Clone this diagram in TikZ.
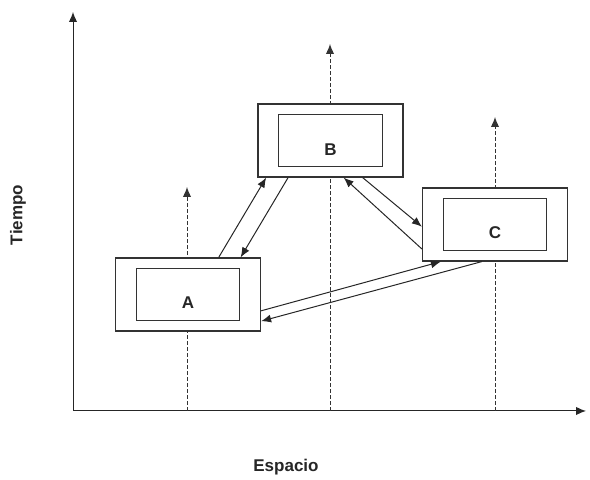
\documentclass[tikz,border=0pt]{standalone}
\usepackage{fontspec}
\setmainfont{Liberation Sans}
\usetikzlibrary{arrows.meta, calc}

\begin{document}
\begin{tikzpicture}[
    x=0.5pt, y=0.5pt,
    outer/.style={
      draw=black!80, fill=white, line width=0.6pt,
      minimum width=72.5pt, minimum height=36.5pt, inner sep=0pt
    },
    inner/.style={
      draw=black!80, line width=0.55pt,
      minimum width=51.75pt, minimum height=26pt, inner sep=0pt
    },
    lbl/.style={font=\bfseries\fontsize{8.5}{10}\selectfont, text=black!85},
    axis/.style={-{Latex[length=5pt, width=4.2pt]}, line width=0.5pt, draw=black!85},
    dline/.style={-{Latex[length=5pt, width=4.2pt]}, line width=0.5pt, draw=black!80,
      dash pattern=on 2pt off 1pt},
    arr/.style={-{Latex[length=5pt, width=4pt]}, line width=0.5pt, draw=black!85},
  ]
    \useasboundingbox (0,0) rectangle (590,480);

    % --- Axes ---
    \coordinate (o)    at (73,69);
    \coordinate (ytip) at (73,468);
    \coordinate (xtip) at (586,69);
    \draw[axis] (o) -- (ytip);
    \draw[axis] (o) -- (xtip);
    \node[lbl, rotate=90] (tiempo)  at (18,265) {Tiempo};
    \node[lbl]            (espacio) at (286,13) {Espacio};

    % --- World lines ---
    \coordinate (ta) at (187,293);
    \coordinate (tb) at (330,436);
    \coordinate (tc) at (495,363);
    \draw[dline] (ta |- o) -- (ta);
    \draw[dline] (tb |- o) -- (tb);
    \draw[dline] (tc |- o) -- (tc);

    % --- Boxes ---
    \node[outer] (a) at (188,185.5) {};
    \node[inner] (ai) at (a.center) {};
    \node[lbl]   (la) at ([yshift=-4pt]a.center) {A};

    \node[outer] (b) at (330.5,339.5) {};
    \node[inner] (bi) at (b.center) {};
    \node[lbl]   (lb) at ([yshift=-4.5pt]b.center) {B};

    \node[outer] (c) at (495,255.5) {};
    \node[inner] (ci) at (c.center) {};
    \node[lbl]   (lc) at ([yshift=-4.25pt]c.center) {C};

    % --- Arrows ---
    \draw[arr] ($(a.north west)!.71!(a.north east)$) -- ($(b.south west)!.06!(b.south east)$);
    \draw[arr] ($(b.south west)!.21!(b.south east)$) -- ($(a.north west)!.86!(a.north east)$);
    \draw[arr] ($(c.north west)!.83!(c.south west)$) -- ($(b.south west)!.59!(b.south east)$);
    \draw[arr] ($(b.south west)!.72!(b.south east)$) -- ($(c.north west)!.53!(c.south west)$);
    \draw[arr] ($(a.north east)!.72!(a.south east)$) -- ($(c.south west)!.13!(c.south east)$);
    \draw[arr] ($(c.south west)!.41!(c.south east)$) -- ($(a.north east)!.86!(a.south east)$);
  \end{tikzpicture}
\end{document}
